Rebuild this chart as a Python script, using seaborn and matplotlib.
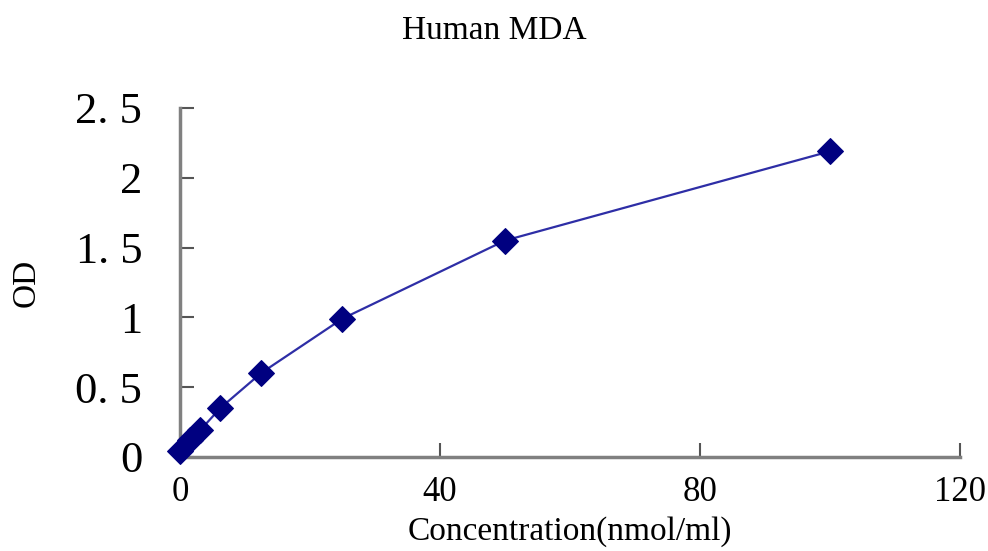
import pandas as pd
import numpy as np
import matplotlib.pyplot as plt
import seaborn as sns

# Standard curve values
concentration = [0, 1.5625, 3.125, 6.25, 12.5, 25, 50, 100]
od = [0.04, 0.12, 0.19, 0.35, 0.60, 0.99, 1.55, 2.19]
x_ticks = [0, 40, 80, 120]
y_ticks = [0, 0.5, 1, 1.5, 2, 2.5]
y_tick_labels = ['0', '0. 5', '1', '1. 5', '2', '2. 5']

df = pd.DataFrame({'conc': concentration, 'od': od})

sns.set_style('white')
plt.rcParams['font.family'] = ['Liberation Serif', 'DejaVu Serif']
plt.rcParams['text.color'] = 'black'
plt.rcParams['xtick.color'] = 'black'
plt.rcParams['ytick.color'] = 'black'
plt.rcParams['axes.labelcolor'] = 'black'

fig = plt.figure(figsize=(9.88, 5.51), dpi=100)
ax = fig.add_axes([0.182, 0.171, 0.790, 0.633])

sns.lineplot(data=df, x='conc', y='od', ax=ax, color='#2e2ea6', linewidth=1.6,
             marker='D', markersize=13, markerfacecolor='#000080',
             markeredgecolor='#000080', clip_on=False, zorder=5)

ax.set_xlim(0, 120)
ax.set_ylim(0, 2.5)
ax.set_xticks(x_ticks)
ax.set_xticklabels([str(t) for t in x_ticks], fontsize=25)
ax.set_yticks(y_ticks)
ax.set_yticklabels(y_tick_labels, fontsize=32)
ax.tick_params(bottom=True, left=True, direction='in', length=10, width=1.5,
               color='#555555')
ax.tick_params(axis='y', pad=27)
ax.tick_params(axis='x', pad=14)

for side in ['top', 'right']:
    ax.spines[side].set_visible(False)
for side in ['left', 'bottom']:
    ax.spines[side].set_color('#808080')
    ax.spines[side].set_linewidth(2.5)

ax.set_xlabel('Concentration(nmol/ml)', fontsize=24, labelpad=5)
ax.set_ylabel('OD', fontsize=24)
ax.yaxis.set_label_coords(-0.177, 0.5)
fig.suptitle('Human MDA', fontsize=24, y=0.972)

fig.savefig('out.png', dpi=100)
